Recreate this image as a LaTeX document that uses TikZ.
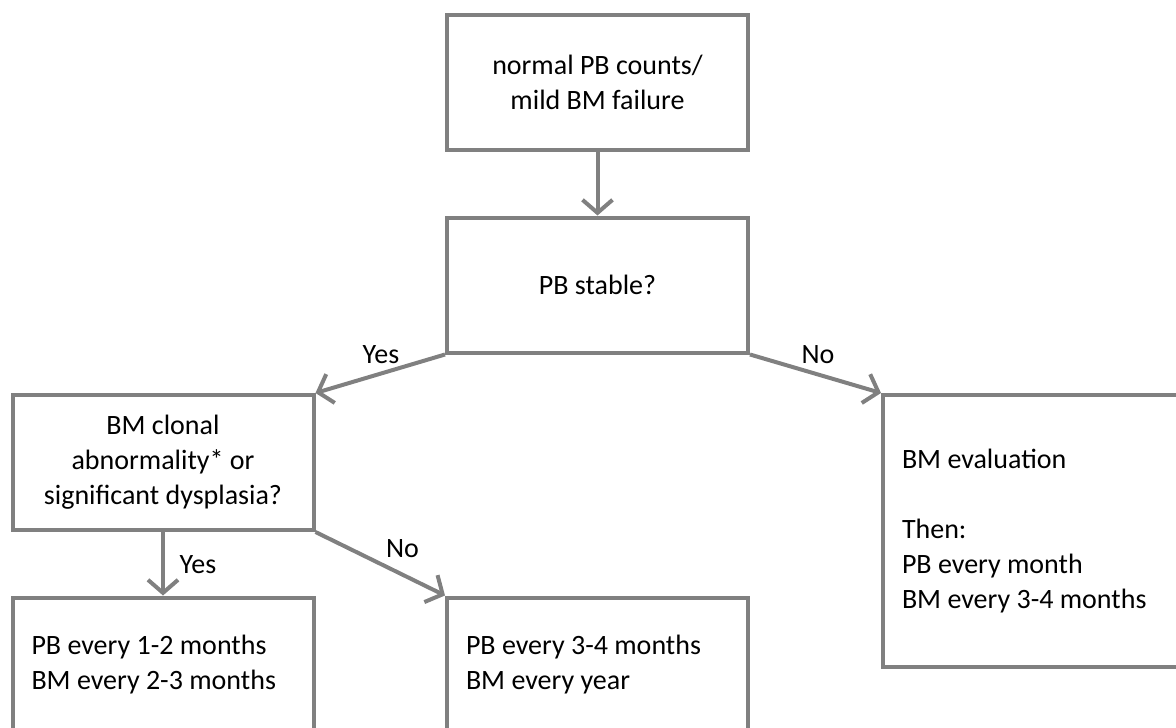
\documentclass[tikz,border=0pt]{standalone}
\usepackage{fontspec}
\setmainfont{Carlito}
\usetikzlibrary{arrows.meta}
\definecolor{flowgray}{RGB}{128,128,128}

\begin{document}
\begin{tikzpicture}[x=1pt, y=-1pt,
    box/.style={draw=flowgray, line width=4pt, minimum width=301pt, minimum height=135pt,
        inner sep=0pt, align=center, font=\fontsize{28}{35}\selectfont},
    plan/.style={box, align=left, text width=263pt,
        execute at begin node={\spaceskip=0pt\xspaceskip=0pt}},
    flow/.style={draw=flowgray, line width=4pt, -{Straight Barb[length=13pt,width=30pt]}},
    answer/.style={anchor=base, inner sep=0pt, font=\fontsize{28}{35}\selectfont}]
    \def\colL{163}
    \def\colM{597.5}
    \def\colR{1033.5}

    \clip (0,0) rectangle (1176,728);

    %caixas
    \node[box] (counts) at (\colM,82) {normal PB counts/\\mild BM failure};
    \node[box] (stable) at (\colM,285) {PB stable?};
    \node[box] (clonal) at (\colL,462.5) {BM clonal\\abnormality* or\\significant dysplasia?};
    \node[plan, minimum height=272pt] (evaluation) at (\colR,531)
        {BM evaluation\\[35pt]Then:\\PB every month\\BM every 3-4 months};
    \node[plan] (frequent) at (\colL,665) {PB every 1-2 months\\BM every 2-3 months};
    \node[plan] (yearly) at (\colM,665) {PB every 3-4 months\\BM every year};

    %setas
    \draw[flow] (counts) -- (stable);
    \draw[flow] (stable.south west) -- (clonal.north east);
    \draw[flow] (stable.south east) -- (evaluation.north west);
    \draw[flow] (clonal) -- (frequent);
    \draw[flow] (clonal.south east) -- (yearly.north west);

    %respostas
    \foreach \x/\y/\answer/\name in {
        381/363/Yes/stableYes, 818/363/No/stableNo, 198/573/Yes/clonalYes, 402.5/557/No/clonalNo
    } {
        \node[answer] (\name) at (\x,\y) {\answer};
    }
\end{tikzpicture}
\end{document}
